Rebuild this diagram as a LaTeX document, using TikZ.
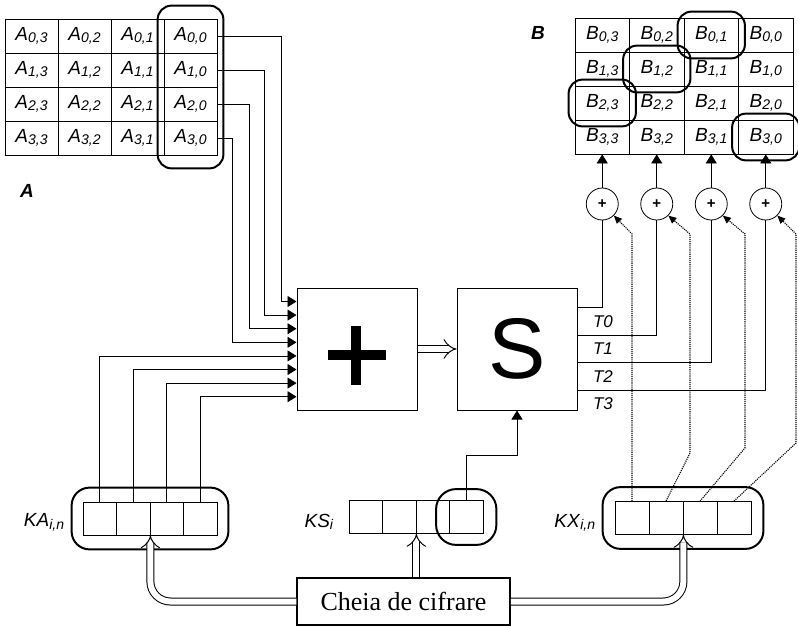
\documentclass[tikz,border=0pt]{standalone}
\usepackage{fontspec}
\setmainfont{Liberation Serif}
\setsansfont{Liberation Sans}
\usetikzlibrary{arrows.meta,fit,calc}

\newcommand{\elem}[2]{\textit{#1}\raisebox{-2.5pt}{\fontsize{14}{14}\selectfont\itshape #2}}

\begin{document}
\begin{tikzpicture}[
    x=1pt, y=-1pt,
    cell/.style={draw, line width=0.8pt, minimum width=53pt, minimum height=34pt, inner sep=0pt, font=\sffamily\fontsize{19}{19}\selectfont},
    reg/.style={draw, line width=0.8pt, minimum width=33.5pt, minimum height=33pt, inner sep=0pt},
    hilite/.style={draw, line width=2pt, rounded corners=14pt, inner sep=6pt},
    block/.style={draw, line width=1pt, minimum width=120pt, minimum height=122pt, inner sep=0pt},
    xorc/.style={draw, circle, line width=0.8pt, minimum size=32pt, inner sep=0pt, font=\sffamily\bfseries\fontsize{15}{15}\selectfont},
    wire/.style={line width=0.8pt},
    tip/.style={-{Triangle[length=9pt,width=11pt]}},
    keyline/.style={line width=1.1pt, densely dotted, -{Triangle[length=8pt,width=7pt]}},
    hollow/.style={double, double distance=6pt, line width=1pt, -{Implies[scale=1.4]}},
    tlab/.style={font=\sffamily\itshape\fontsize{17}{17}\selectfont},
    reglab/.style={font=\sffamily\fontsize{19}{19}\selectfont},
    matlab/.style={font=\sffamily\bfseries\itshape\fontsize{19}{19}\selectfont},
]
    \useasboundingbox (0,0) rectangle (798,626);

    % Matrix A
    \foreach \i in {0,...,3} {
        \foreach \c in {0,...,3} {
            \pgfmathtruncatemacro\j{3-\c}
            \node[cell] (a\i\j) at (31.5+53*\c, 36+34*\i) {\elem{A}{\i,\j}};
        }
    }
    \node[hilite, fit=(a00)(a30), inner xsep=6pt, inner ysep=13pt] (hla) {};
    \node[matlab] (la) at (27,191) {A};

    % Matrix B
    \foreach \i in {0,...,3} {
        \foreach \c in {0,...,3} {
            \pgfmathtruncatemacro\j{3-\c}
            \node[cell, minimum width=54.5pt] (b\i\j) at (602.25+54.5*\c, 35+34*\i) {\elem{B}{\i,\j}};
        }
    }
    \foreach \p in {b01,b12,b23,b30}
        \node[hilite, fit=(\p)] (hl\p) {};
    \node[matlab] (lb) at (538,33) {B};

    % Blocks
    \node[block] (plus) at (357,349) {};
    \draw[line width=10pt] (328,355) -- (386,355) (356,326) -- (356,385);
    \node[block, font=\sffamily\fontsize{86}{86}\selectfont] (sbox) at (517,349) {S};
    \draw[hollow] (plus.east) -- (sbox.west);
    \draw[line width=1pt] (plus.north east) -- (plus.south east);

    % Key registers
    \foreach \n in {1,...,4} {
        \node[reg] (ka\n) at (66.25+33.5*\n, 518.5) {};
        \node[reg] (ks\n) at (332.25+33.5*\n, 517) {};
        \node[reg, minimum width=34pt] (kx\n) at (598+34*\n, 518) {};
    }
    \node[hilite, fit=(ka1)(ka4), inner xsep=11pt, inner ysep=14pt, rounded corners=18pt] (kaframe) {};
    \node[hilite, fit=(ks4), inner xsep=13pt, inner ysep=11pt, rounded corners=20pt] (ksframe) {};
    \node[hilite, fit=(kx1)(kx4), inner xsep=12pt, inner ysep=14pt, rounded corners=18pt] (kxframe) {};
    \node[reglab, anchor=east] (lka) at ($(kaframe.west)+(-3,4)$) {\elem{KA}{i,n}};
    \node[reglab, anchor=east] (lks) at ($(ks1.west)+(-12,5)$) {\elem{KS}{i}};
    \node[reglab, anchor=east] (lkx) at ($(kxframe.west)+(-3,5)$) {\elem{KX}{i,n}};

    % Inputs of the adder
    \foreach \k in {0,...,7}
        \coordinate (in\k) at ($(plus.north west)+(0,14+13.6*\k)$);
    \foreach \i/\x in {0/281,1/264,2/249,3/232}
        \draw[wire,tip] (a\i0.east) -| (\x,0 |- in\i) -- (in\i);
    \foreach \n/\k in {1/4,2/5,3/6,4/7}
        \draw[wire,tip] (ka\n.north) |- (in\k);
    \draw[wire,tip] (ks4.north) -- ++(0,-45) -| (sbox.south);

    % Outputs T0..T3 and xor gates
    \foreach \k in {0,...,3} {
        \pgfmathtruncatemacro\j{3-\k}
        \node[xorc] (xor\k) at (b3\j.south |- 0,204) {+};
        \draw[wire,tip] (xor\k) -- (b3\j.south);
        \coordinate (t\k) at ($(sbox.north east)+(0,20+27.5*\k)$);
        \draw[wire] (t\k) -| (xor\k.south);
        \node[tlab, anchor=west] (tl\k) at ($(t\k)+(12,14)$) {T\k};
    }

    % Key bytes to the xor gates
    \foreach \n/\k/\x/\y in {1/0/632/470, 2/1/690/453, 3/2/745/448, 4/3/796/443}
        \draw[keyline] (kx\n.north) -- (\x,\y) -- (\x,234) -- (xor\k.-45);

    % Cipher key
    \node[draw, line width=1.5pt, minimum width=213pt, minimum height=47pt, font=\fontsize{26}{30}\selectfont] (cheia) at (403.5,601.5) {Cheia de cifrare};
    \draw[hollow, rounded corners=20pt] (cheia.west) -| (ka2.south east);
    \draw[hollow, rounded corners=20pt] (cheia.east) -| (kx2.south east);
    \draw[hollow] (cheia.north -| ks2.south east) -- (ks2.south east);

\end{tikzpicture}
\end{document}
